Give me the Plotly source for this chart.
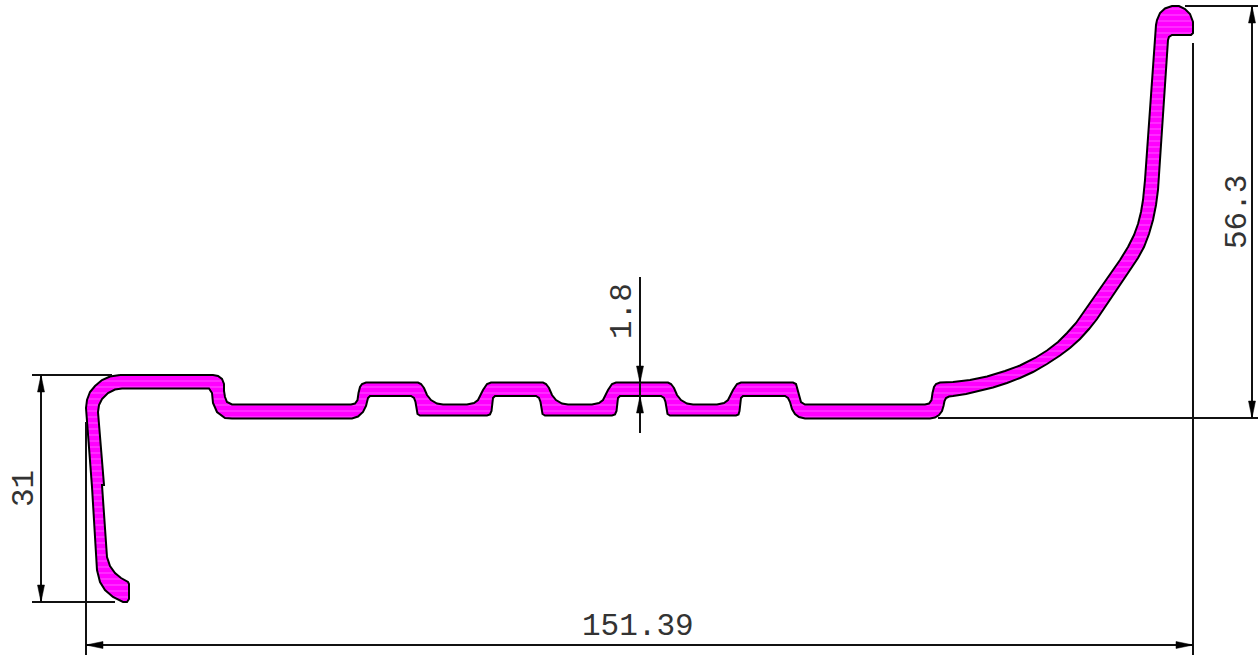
import plotly.graph_objects as go

# Profile outline (pixel-based drawing units)
profile_x = [120,213,218,222,224,224,225,227,232,351,355,357.5,358.5,360,362,366,
             418,421,424,427,431,437,443,467,474,478,483,487,491,
             543,546,549,552,556,562,568,592,599,603,608,612,616,
             668,671,674,677,681,687,693,717,724,728,733,737,741,
             793,796,797,798,799.5,801,805,925,929,931.5,932.5,934,936,940,
             953,970,987,1005,1020,1035,1047,1058,1067,1076,1083,1100,1120,1128,1134,1138,1141,1143,1145,
             1156,1157,1160,1165,1172,1179,1185,1190,1193,1193,1191,1172,1169,1168,
             1158,1156,1153,1149,1144,1138,1128,1113,1097,1089,1080,1070,1060,1047,1033,1020,1007,993,980,966,953,
             949,946,944.5,943.5,942,939,935,930,805,799,795,792,790,788,785,
             743,741,739.5,738.5,736,670,667.5,665.5,664,661,620,618,616.5,615,612,
             545,542.5,540.5,539,536,495,493,491.5,490,487,420,417.5,415.5,414,411,370,368,366,363,358,352,
             232,225,217,213,212,209,206,122,115,108,102,99,98,104,102,107,110,115,121,128,129,129,127,123,113,105,100,97,92,87,86,87,90,95,102,110,120]
profile_y = [375,375,376,379,384,391,397,402,404.5,404.5,403.5,400,393,387,384,382.5,
             382.5,384,388,395,400,403.5,404.5,404.5,403,400,390,384,382.5,
             382.5,384,388,395,400,403.5,404.5,404.5,403,400,390,384,382.5,
             382.5,384,388,395,400,403.5,404.5,404.5,403,400,390,384,382.5,
             382.5,384,388,393,399,402,404.5,404.5,403.5,400,393,387,384,382.5,
             382,380,376.5,371,365.5,358,350.5,342,333,323,313,289,260,247,235,224,212,200,180,
             25,20,13,8.5,6,6,9,14,22,33,35,35,37,40,
             190,205,220,234,247,258,273,295,319,329,339,348,355.5,364,372,378,383,387.5,391,394,396,
             396.5,398,401,406,411,415,417.5,418.5,418.5,417,414,409,402,398,396,
             396,398,411,414.5,415.5,415.5,414,402,398,396,396,398,411,414.5,415.5,
             415.5,414,402,398,396,396,398,411,414.5,415.5,415.5,414,402,398,396,396,398,406,412,416.5,418.5,
             418.5,418,412,403,393,388.5,388.5,388.5,389.5,393,399,405,412,485,485,557,566,573,578,582,584,599,602,602,597,590,582,570,487,420,408,400,392,386,380,376.5,375]

# Dimension lines: [x0, y0, x1, y1]
dim_lines = [
    [1185,6,1258,6],[938,418,1258,418],[1252,6,1252,418],
    [1193,43,1193,655],[86,422,86,655],[86,645,1193,645],
    [32,375,112,375],[32,602,115,602],[41,375,41,602],
    [640,277,640,433],
]
# Arrow tips: x, y, direction
arrow_tips = [(1252,6,"up"),(1252,418,"down"),(86,645,"left"),(1193,645,"right"),
              (41,375,"up"),(41,602,"down"),(640,383,"down"),(640,396,"up")]
arrow_length = 17
arrow_half = 3.5
# Dimension labels: text, x, y, angle
dim_text = ["151.39","56.3","31","1.8"]
dim_text_x = [638,1237,24,622]
dim_text_y = [626,212,489,311]
dim_text_angle = [0,-90,-90,-90]

fig = go.Figure()
fig.add_trace(go.Scatter(x=profile_x+profile_x[:1], y=profile_y+profile_y[:1], mode="lines",
    fill="toself", fillcolor="#ff00ff",
    fillpattern=dict(shape="-", bgcolor="#ff00ff", fgcolor="#ff48ff", fgopacity=1, size=6, solidity=0.2),
    line=dict(color="#000000", width=2), hoverinfo="skip", showlegend=False))

for x0,y0,x1,y1 in dim_lines:
    fig.add_trace(go.Scatter(x=[x0,x1], y=[y0,y1], mode="lines",
        line=dict(color="#111111", width=2), hoverinfo="skip", showlegend=False))

for x,y,d in arrow_tips:
    if d in ("up","down"):
        s = 1 if d=="up" else -1
        ax=[x,x-arrow_half,x+arrow_half,x]; ay=[y,y+s*arrow_length,y+s*arrow_length,y]
    else:
        s = 1 if d=="left" else -1
        ax=[x,x+s*arrow_length,x+s*arrow_length,x]; ay=[y,y-arrow_half,y+arrow_half,y]
    fig.add_trace(go.Scatter(x=ax, y=ay, mode="lines", fill="toself", fillcolor="#000000",
        line=dict(color="#000000", width=0.5), hoverinfo="skip", showlegend=False))

for t,x,y,a in zip(dim_text,dim_text_x,dim_text_y,dim_text_angle):
    fig.add_annotation(x=x,y=y,text=t,textangle=a,showarrow=False,xanchor="center",yanchor="middle",
        font=dict(family="Liberation Mono",size=31,color="#333333"))

fig.update_layout(width=1258,height=655,margin=dict(l=0,r=0,t=0,b=0),
    paper_bgcolor="white",plot_bgcolor="white",showlegend=False,
    xaxis=dict(range=[0,1258],visible=False,fixedrange=True),
    yaxis=dict(range=[655,0],visible=False,fixedrange=True))
fig.write_html("out.html",config={"displayModeBar":False},
    post_script="document.documentElement.style.overflow='hidden';document.body.style.margin='0';")
